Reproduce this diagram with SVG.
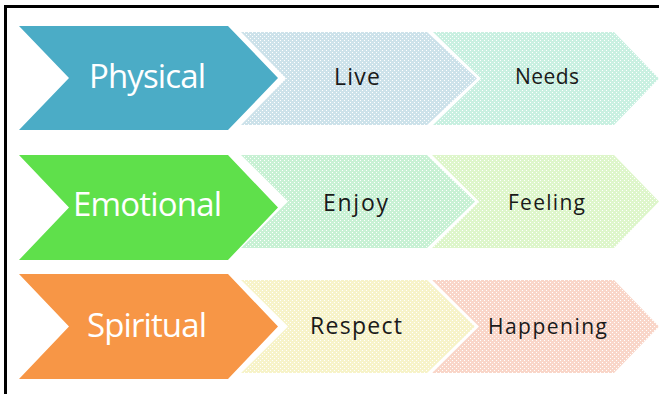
<svg xmlns="http://www.w3.org/2000/svg" width="659" height="394" viewBox="0 0 659 394">
  <style>
    .main { font-family: "Open Sans", "Liberation Sans", sans-serif; font-size: 33px; fill: #ffffff; }
    .sub { font-family: "Open Sans", "Liberation Sans", sans-serif; font-size: 23px; fill: #1a1a1a; }
    .sm { font-size: 21px; }
    .dots { fill: url(#dots); }
  </style>
  <defs>
    <pattern id="dots" width="4" height="4" patternUnits="userSpaceOnUse">
      <rect x="0" y="0" width="1" height="1" fill="#ffffff"/>
      <rect x="2" y="2" width="1" height="1" fill="#ffffff"/>
    </pattern>
  </defs>
  <rect width="659" height="394" fill="#ffffff"/>
  <path d="M5.5 394 V6.5 H659" stroke="#000000" stroke-width="3" fill="none"/>

  <g id="physical">
    <polygon points="19,26 228,26 278,78 228,130 19,130 69,78" fill="#4bacc6"/>
    <text class="main" x="89" y="88" textLength="117">Physical</text>
  </g>
  <g id="live">
    <polygon points="241,32 427,32 477,78.5 427,125 241,125 286,78.5" fill="#cde2ea"/>
    <polygon class="dots" points="241,32 427,32 477,78.5 427,125 241,125 286,78.5"/>
    <text class="sub" x="334" y="85" textLength="46">Live</text>
  </g>
  <g id="needs">
    <polygon points="433,32 614,32 659,78.5 614,125 433,125 481,78.5" fill="#c9f0e1"/>
    <polygon class="dots" points="433,32 614,32 659,78.5 614,125 433,125 481,78.5"/>
    <text class="sub sm" x="515" y="84" textLength="64">Needs</text>
  </g>

  <g id="emotional">
    <polygon points="19,155 228,155 278,207.5 228,260 19,260 69,207.5" fill="#5fe04b"/>
    <text class="main" x="73" y="216" textLength="149">Emotional</text>
  </g>
  <g id="enjoy">
    <polygon points="241,155 427,155 475,201.5 427,248 241,248 288,201.5" fill="#c8f1d4"/>
    <polygon class="dots" points="241,155 427,155 475,201.5 427,248 241,248 288,201.5"/>
    <text class="sub" x="323" y="211" textLength="65">Enjoy</text>
  </g>
  <g id="feeling">
    <polygon points="432,155 614,155 659,201.5 614,248 432,248 479,201.5" fill="#def6cb"/>
    <polygon class="dots" points="432,155 614,155 659,201.5 614,248 432,248 479,201.5"/>
    <text class="sub sm" x="508" y="210" textLength="77">Feeling</text>
  </g>

  <g id="spiritual">
    <polygon points="19,274 228,274 278,326.5 228,379 19,379 69,326.5" fill="#f79646"/>
    <text class="main" x="87" y="337" textLength="120">Spiritual</text>
  </g>
  <g id="respect">
    <polygon points="241,280 427,280 475,326.5 427,373 241,373 288,326.5" fill="#f7f3c9"/>
    <polygon class="dots" points="241,280 427,280 475,326.5 427,373 241,373 288,326.5"/>
    <text class="sub" x="310" y="334" textLength="92">Respect</text>
  </g>
  <g id="happening">
    <polygon points="432,280 614,280 659,326.5 614,373 432,373 479,326.5" fill="#f9d6c9"/>
    <polygon class="dots" points="432,280 614,280 659,326.5 614,373 432,373 479,326.5"/>
    <text class="sub sm" x="488" y="334" textLength="119">Happening</text>
  </g>

  <g id="connectors"></g>
</svg>
